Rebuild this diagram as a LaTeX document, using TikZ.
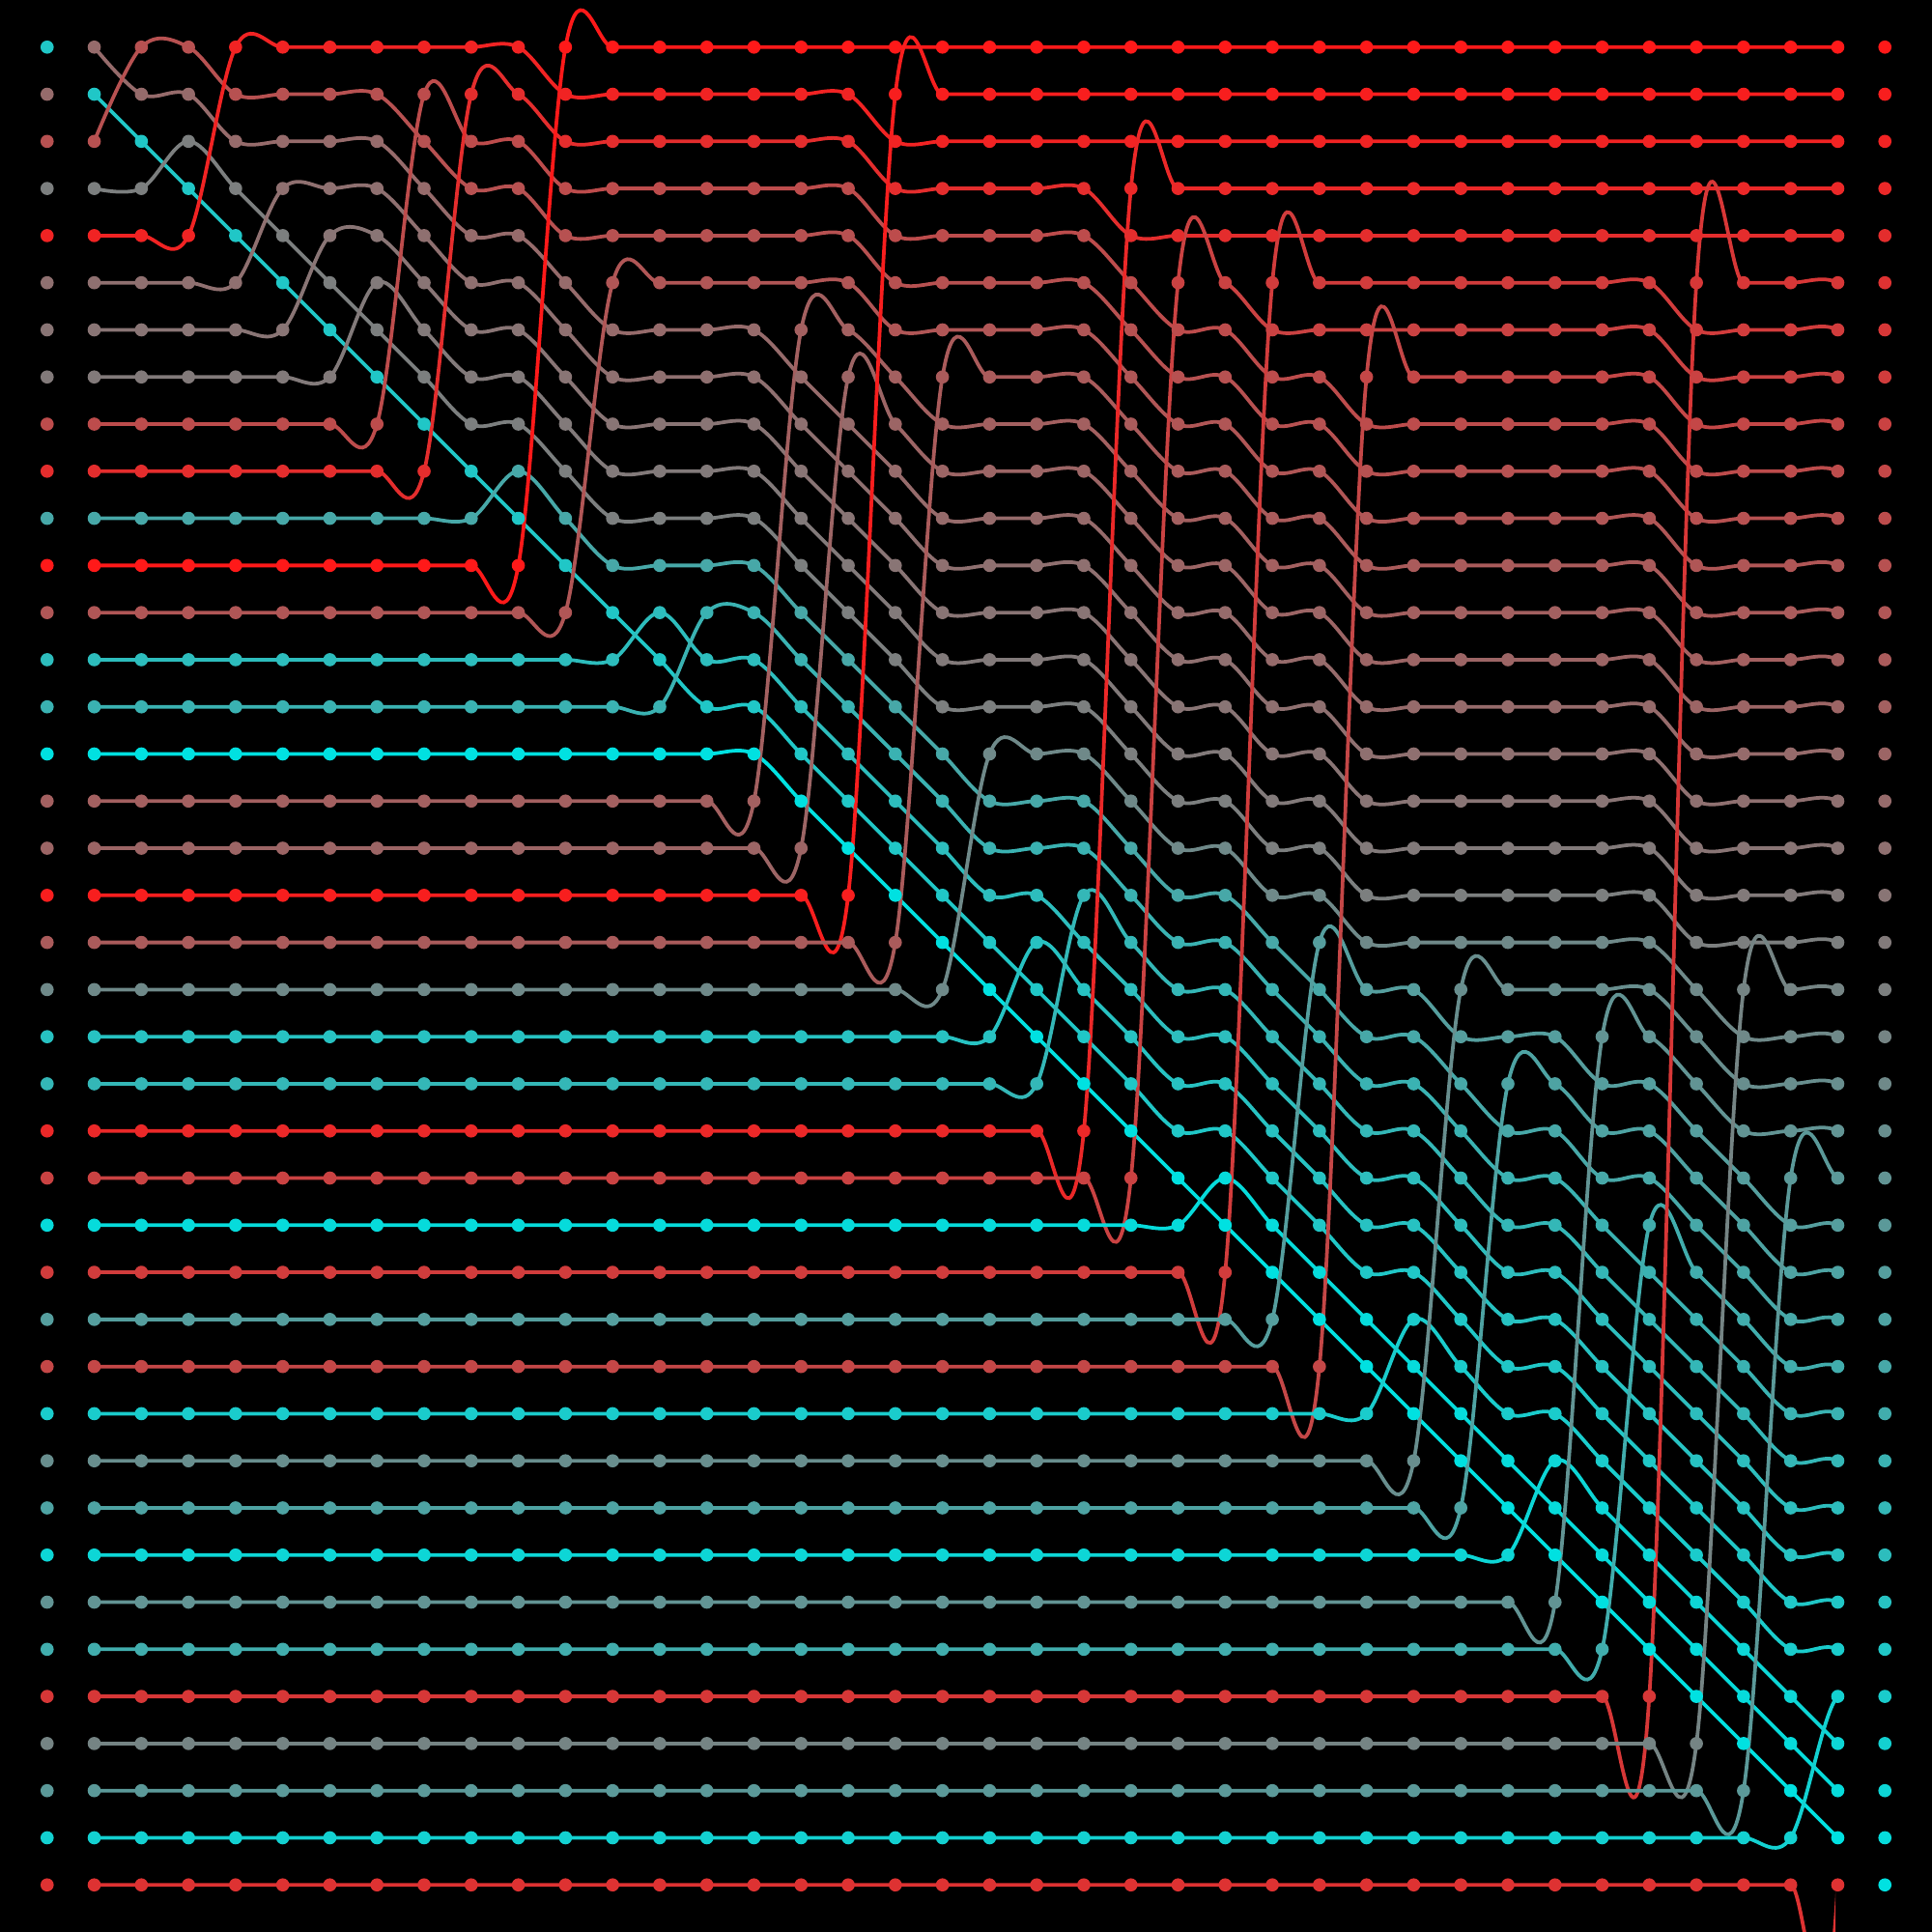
\documentclass[tikz,border=0pt]{standalone}
\begin{document}
\begin{tikzpicture}[x=1cm,y=1cm]
\fill[black] (0,0) rectangle (41,-41);
\useasboundingbox (0,0) rectangle (41,-41);
\def\dotr{0.14}
% insertion position of element k at step k
\foreach \v [count=\i from 0] in {0,0,0,2,0,3,4,5,1,1,9,0,5,12,12,15,6,7,1,7,15,19,18,3,5,24,5,19,7,27,20,22,30,21,25,5,20,24,35,5}{%
  \expandafter\xdef\csname pp\i\endcsname{\v}}
\newcount\rowc
\foreach \ee in {0,...,39}{%
  \global\rowc=0\relax
  \gdef\pts{}\gdef\dotpath{}%
  \foreach \cc in {1,...,39}{%
    \ifnum\cc<\ee\relax
      \global\rowc=\ee\relax
    \else
      \ifnum\cc=\ee\relax
        \global\rowc=\csname pp\cc\endcsname\relax
      \else
        \ifnum\csname pp\cc\endcsname>\rowc\else\global\advance\rowc by 1\relax\fi
      \fi
    \fi
    \xdef\pts{\pts(\the\numexpr\cc+1\relax,-\the\numexpr\rowc+1\relax)}%
    \ifnum\cc<39\relax
      \xdef\dotpath{\dotpath(\the\numexpr\cc+1\relax,-\the\numexpr\rowc+1\relax)circle[radius=\dotr]}%
    \fi
  }%
  \expandafter\xdef\csname rank\ee\endcsname{\the\rowc}%
  \expandafter\xdef\csname pts\ee\endcsname{\pts}%
  \expandafter\xdef\csname dp\ee\endcsname{\dotpath}%
}
% lines
\foreach \ee in {0,...,39}{%
  \edef\rk{\csname rank\ee\endcsname}%
  \pgfmathtruncatemacro\colR{255-255*\rk/39}%
  \pgfmathtruncatemacro\colG{25+200*\rk/39}%
  \definecolor{lc}{RGB}{\colR,\colG,\colG}%
  \begin{scope}
    \clip (0,0) rectangle (38.95,-41);
    \edef\tmp{\noexpand\draw[lc,line width=2.2pt,line cap=round] plot[smooth,tension=0.58] coordinates {\csname pts\ee\endcsname};}\tmp
  \end{scope}
}
% dots
\foreach \ee in {0,...,39}{%
  \edef\rk{\csname rank\ee\endcsname}%
  \pgfmathtruncatemacro\colR{255-255*\rk/39}%
  \pgfmathtruncatemacro\colG{25+200*\rk/39}%
  \definecolor{lc}{RGB}{\colR,\colG,\colG}%
  \edef\tmp{\noexpand\fill[lc] \csname dp\ee\endcsname (1,-\the\numexpr\ee+1\relax) circle[radius=\dotr] (40,-\the\numexpr\rk+1\relax) circle[radius=\dotr];}\tmp
}
\end{tikzpicture}
\end{document}
